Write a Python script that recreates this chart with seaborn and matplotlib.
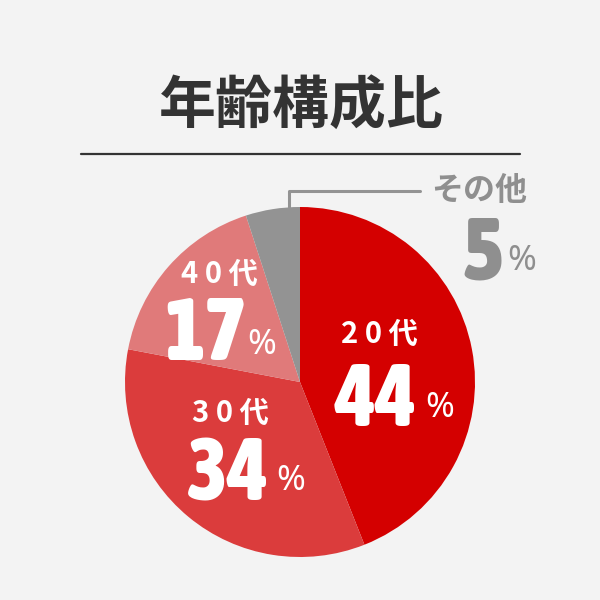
import matplotlib
matplotlib.use('Agg')
import matplotlib.pyplot as plt
from matplotlib import font_manager as fm
import seaborn as sns

# データ
labels = ['2 0 代', '3 0 代', '4 0 代', 'その他']
values = [44, 34, 17, 5]
colors = ['#d40000', '#db3c3c', '#e07a7a', '#939393']

sns.set_theme(style='white', rc={'figure.facecolor': '#f3f3f3', 'axes.facecolor': '#f3f3f3'})
plt.rcParams['font.family'] = ['Noto Sans CJK JP', 'DejaVu Sans']


# 数字用に細長い太字フォントを探す (なければ Roboto)
def find_narrow_bold():
    best = None
    for f in fm.fontManager.ttflist:
        narrow = ('narrow' in f.name.lower() or 'condensed' in f.name.lower()
                  or f.stretch in ('condensed', 'semi-condensed', 'extra-condensed'))
        w = f.weight if isinstance(f.weight, int) else 400
        if narrow and w >= 600:
            if best is None or 'DejaVu' in best.name:
                best = f
    return best


nb = find_narrow_bold()
if nb is not None:
    num_prop = fm.FontProperties(fname=nb.fname, size=63)
else:
    num_prop = fm.FontProperties(family='Roboto', weight='bold', size=54)

fig = plt.figure(figsize=(6, 6), dpi=100)
ax = fig.add_axes([0, 0, 1, 1])

# y軸を反転するので、開始角 -90 と反時計回り指定で画面上は12時から時計回りになる
ax.pie(values, colors=colors, startangle=-90, counterclock=True,
       center=(300, 382), radius=175, wedgeprops={'linewidth': 0})
ax.set_xlim(0, 600)
ax.set_ylim(600, 0)
ax.set_aspect('equal')
ax.axis('off')

# タイトルと下線
ax.text(301, 106, '年齢構成比', ha='center', va='center', fontsize=41,
        fontweight='bold', color='#333333')
ax.plot([81, 520], [154, 154], color='#333333', lw=1.6)

pct_font = ['Noto Sans', 'DejaVu Sans']

# ラベル位置 (カテゴリ名, 数字, %)
name_pos = [(379, 334), (230, 413), (219, 274), (479, 191)]
num_pos = [(376, 392), (228, 467), (205, 326), (483, 246)]
pct_pos = [(440, 408), (291, 481), (262, 345), (522, 261)]
txt_colors = ['white', 'white', 'white', '#8f8f8f']

for i in range(len(labels)):
    ax.text(*name_pos[i], labels[i], ha='center', va='center',
            fontsize=21 if i < 3 else 23, fontweight='bold', color=txt_colors[i])
    ax.text(*num_pos[i], str(values[i]), ha='center', va='center_baseline',
            fontproperties=num_prop, color=txt_colors[i])
    ax.text(*pct_pos[i], '%', ha='center', va='center',
            fontsize=25, fontweight='bold', family=pct_font, color=txt_colors[i])

# その他の引き出し線
ax.plot([289, 289, 420], [207, 191, 191], color='#939393', lw=2.2)

fig.savefig('out.png', dpi=100, facecolor=fig.get_facecolor())
